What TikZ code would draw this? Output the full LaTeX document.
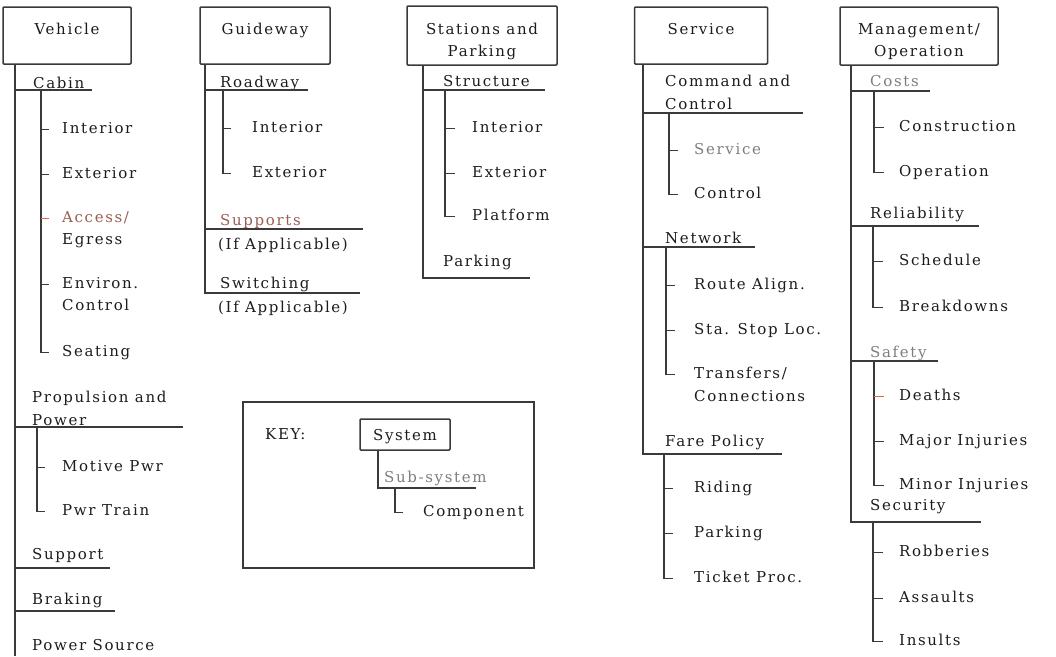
\documentclass[tikz,border=0pt]{standalone}
\usepackage{fontspec}
\setmainfont{DejaVu Serif}[LetterSpace=11]
\usepackage{tikz}
\usetikzlibrary{positioning}

\definecolor{ink}{HTML}{1C1C1C}
\definecolor{rule}{HTML}{3A3A3A}
\definecolor{faded}{HTML}{7E7E7E}
\definecolor{rust}{HTML}{9A5E55}
\definecolor{tickred}{HTML}{E06A50}

\begin{document}
\begin{tikzpicture}[x=1pt, y=-1pt,
    font=\fontsize{15}{22}\selectfont,
    txt/.style = {inner sep=0, anchor=base west, text height=10, text depth=3, text=ink},
    sys/.style = {draw=rule, line width=1.5pt, rounded corners=1pt, inner xsep=4, inner ysep=0,
                  text height=27, text depth=30, anchor=base, align=center, text=ink},
    ln/.style = {draw=rule, line width=1.5pt}]
    \useasboundingbox (0,0) rectangle (1056,656);

    % systems
    \node[sys, minimum width=128] (veh) at (67,34) {Vehicle};
    \node[sys, minimum width=130] (guide) at (265,34) {Guideway};
    \node[sys, minimum width=150, text height=50, text depth=9] (stat) at (482,56) {Stations and\\Parking};
    \node[sys, minimum width=133] (serv) at (701,34) {Service};
    \node[sys, minimum width=158, text height=49, text depth=9] (mgmt) at (919,56) {Management/\\Operation};

    \coordinate (vx) at (15,0);
    \coordinate (gx) at (205,0);
    \coordinate (sx) at (423,0);
    \coordinate (svx) at (643,0);
    \coordinate (mx) at (851,0);

    % Vehicle
    \node[txt] (cab) at (33,88) {Cabin};
    \node[txt] (int1) at (62,133) {Interior};
    \node[txt] (ext1) at (62,178) {Exterior};
    \node[txt, text=rust] (acc) at (62,222) {Access/};
    \node[txt] (egr) at (62,244) {Egress};
    \node[txt] (env) at (62,288) {Environ.};
    \node[txt] (ctl1) at (62,310) {Control};
    \node[txt] (seat) at (62,356) {Seating};
    \node[txt] (prop) at (32,402) {Propulsion and};
    \node[txt] (prop2) at (32,425) {Power};
    \node[txt] (mot) at (62,471) {Motive Pwr};
    \node[txt] (ptr) at (62,515) {Pwr Train};
    \node[txt] (supp1) at (32,559) {Support};
    \node[txt] (brk) at (32,604) {Braking};
    \node[txt] (psrc) at (32,650) {Power Source};
    \coordinate (cabU) at (92,90);
    \coordinate (cabS) at (41,90);
    \coordinate (propU) at (183,427);
    \coordinate (propS) at (37,427);
    \coordinate (suppU) at (110,568);
    \coordinate (brkU) at (115,611);
    \coordinate (vEnd) at (15,656);
    \draw[ln] (vx |- veh.south) -- (vEnd);
    \draw[ln] (vx |- cabU) -- (cabU);
    \draw[ln] (cabS) -- (cabS |- seat.west) -- ++(8,0);
    \draw[ln] (cabS |- int1.west) -- ++(8,0);
    \draw[ln] (cabS |- ext1.west) -- ++(8,0);
    \draw[ln, tickred] (cabS |- acc.west) -- ++(8,0);
    \draw[ln] (cabS |- env.west) -- ++(8,0);
    \draw[ln] (vx |- propU) -- (propU);
    \draw[ln] (propS) -- (propS |- ptr.west) -- ++(8,0);
    \draw[ln] (propS |- mot.west) -- ++(8,0);
    \draw[ln] (vx |- suppU) -- (suppU);
    \draw[ln] (vx |- brkU) -- (brkU);

    % Guideway
    \node[txt] (road) at (220,87) {Roadway};
    \node[txt] (int2) at (252,132) {Interior};
    \node[txt] (ext2) at (252,177) {Exterior};
    \node[txt, text=rust] (gsup) at (220,225) {Supports};
    \node[txt] (gsup2) at (218,249) {(If Applicable)};
    \node[txt] (sw) at (220,288) {Switching};
    \node[txt] (sw2) at (218,312) {(If Applicable)};
    \coordinate (roadU) at (308,90);
    \coordinate (roadS) at (223,90);
    \coordinate (gsupU) at (363,229);
    \coordinate (swU) at (360,293);
    \draw[ln] (gx |- guide.south) -- (gx |- swU) -- (swU);
    \draw[ln] (gx |- roadU) -- (roadU);
    \draw[ln] (roadS) -- (roadS |- ext2.west) -- ++(8,0);
    \draw[ln] (roadS |- int2.west) -- ++(8,0);
    \draw[ln] (gx |- gsupU) -- (gsupU);

    % Stations and Parking
    \node[txt] (struc) at (443,86) {Structure};
    \node[txt] (int3) at (472,132) {Interior};
    \node[txt] (ext3) at (472,177) {Exterior};
    \node[txt] (plat) at (472,220) {Platform};
    \node[txt] (park) at (443,266) {Parking};
    \coordinate (strucU) at (545,90);
    \coordinate (strucS) at (445,90);
    \coordinate (parkU) at (530,278);
    \draw[ln] (sx |- stat.south) -- (sx |- parkU) -- (parkU);
    \draw[ln] (sx |- strucU) -- (strucU);
    \draw[ln] (strucS) -- (strucS |- plat.west) -- ++(10,0);
    \draw[ln] (strucS |- int3.west) -- ++(10,0);
    \draw[ln] (strucS |- ext3.west) -- ++(10,0);

    % Service
    \node[txt] (cmd) at (665,86) {Command and};
    \node[txt] (cmd2) at (665,109) {Control};
    \node[txt, text=faded] (svc) at (694,154) {Service};
    \node[txt] (ctl2) at (694,198) {Control};
    \node[txt] (net) at (665,243) {Network};
    \node[txt] (route) at (694,289) {Route Align.};
    \node[txt] (sta) at (694,334) {Sta. Stop Loc.};
    \node[txt] (trans) at (694,378) {Transfers/};
    \node[txt] (trans2) at (694,401) {Connections};
    \node[txt] (fare) at (665,446) {Fare Policy};
    \node[txt] (ride) at (694,492) {Riding};
    \node[txt] (fpark) at (694,537) {Parking};
    \node[txt] (tproc) at (694,582) {Ticket Proc.};
    \coordinate (cmdU) at (803,113);
    \coordinate (cmdS) at (669,113);
    \coordinate (netU) at (755,247);
    \coordinate (netS) at (666,247);
    \coordinate (fareU) at (782,454);
    \coordinate (fareS) at (664,454);
    \draw[ln] (svx |- serv.south) -- (svx |- fareU) -- (fareU);
    \draw[ln] (svx |- cmdU) -- (cmdU);
    \draw[ln] (cmdS) -- (cmdS |- ctl2.west) -- ++(9,0);
    \draw[ln] (cmdS |- svc.west) -- ++(9,0);
    \draw[ln] (svx |- netU) -- (netU);
    \draw[ln] (netS) -- (netS |- trans.west) -- ++(9,0);
    \draw[ln] (netS |- route.west) -- ++(9,0);
    \draw[ln] (netS |- sta.west) -- ++(9,0);
    \draw[ln] (fareS) -- (fareS |- tproc.west) -- ++(9,0);
    \draw[ln] (fareS |- ride.west) -- ++(9,0);
    \draw[ln] (fareS |- fpark.west) -- ++(9,0);

    % Management/Operation
    \node[txt, text=faded] (cost) at (870,86) {Costs};
    \node[txt] (cons) at (899,131) {Construction};
    \node[txt] (oper) at (899,176) {Operation};
    \node[txt] (rel) at (870,218) {Reliability};
    \node[txt] (sched) at (899,265) {Schedule};
    \node[txt] (brkd) at (899,311) {Breakdowns};
    \node[txt, text=faded] (saf) at (870,357) {Safety};
    \node[txt] (death) at (899,400) {Deaths};
    \node[txt] (major) at (899,445) {Major Injuries};
    \node[txt] (minor) at (899,489) {Minor Injuries};
    \node[txt] (secu) at (870,510) {Security};
    \node[txt] (rob) at (899,556) {Robberies};
    \node[txt] (asl) at (899,602) {Assaults};
    \node[txt] (ins) at (899,645) {Insults};
    \coordinate (costU) at (930,91);
    \coordinate (costS) at (874,91);
    \coordinate (relU) at (979,226);
    \coordinate (relS) at (873,226);
    \coordinate (safU) at (938,361);
    \coordinate (safS) at (874,361);
    \coordinate (secU) at (981,522);
    \coordinate (secS) at (873,522);
    \draw[ln] (mx |- mgmt.south) -- (mx |- secU) -- (secU);
    \draw[ln] (mx |- costU) -- (costU);
    \draw[ln] (costS) -- (costS |- oper.west) -- ++(10,0);
    \draw[ln] (costS |- cons.west) -- ++(10,0);
    \draw[ln] (mx |- relU) -- (relU);
    \draw[ln] (relS) -- (relS |- brkd.west) -- ++(10,0);
    \draw[ln] (relS |- sched.west) -- ++(10,0);
    \draw[ln] (mx |- safU) -- (safU);
    \draw[ln] (safS) -- (safS |- minor.west) -- ++(10,0);
    \draw[ln, tickred] (safS |- death.west) -- ++(10,0);
    \draw[ln] (safS |- major.west) -- ++(10,0);
    \draw[ln] (secS) -- (secS |- ins.west) -- ++(10,0);
    \draw[ln] (secS |- rob.west) -- ++(10,0);
    \draw[ln] (secS |- asl.west) -- ++(10,0);

    % key
    \draw[ln] (243,402) rectangle (534,568);
    \node[txt] (key) at (265,439) {KEY:};
    \node[sys, text height=21, text depth=10, minimum width=90] (ksys) at (405,440) {System};
    \node[txt, text=faded] (ksub) at (384,482) {Sub-system};
    \node[txt] (kcomp) at (423,516) {Component};
    \coordinate (kx) at (378,0);
    \coordinate (ksubU) at (476,488);
    \coordinate (ksubS) at (395,488);
    \draw[ln] (kx |- ksys.south) -- (kx |- ksubU) -- (ksubU);
    \draw[ln] (ksubS) -- (ksubS |- kcomp.west) -- ++(8,0);
\end{tikzpicture}
\end{document}
